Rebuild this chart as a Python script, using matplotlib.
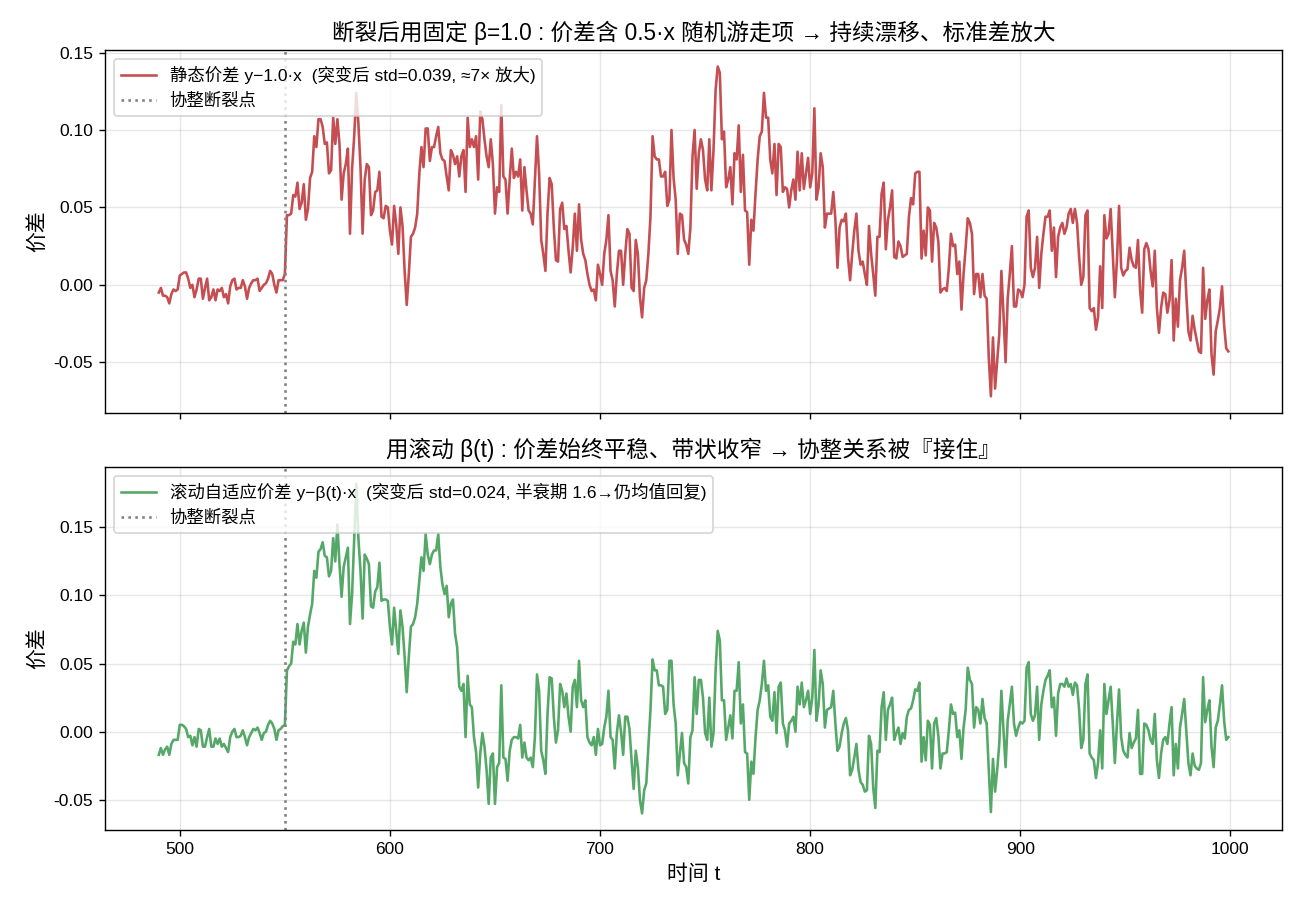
import numpy as np
import matplotlib
matplotlib.use('Agg')
import matplotlib.pyplot as plt

plt.rcParams['font.family'] = ['Liberation Sans', 'Noto Sans CJK SC', 'DejaVu Sans']
plt.rcParams['axes.unicode_minus'] = False

# 时间起点与断裂点
t_start = 490
t_break = 550

# 静态价差 y-1.0*x (每行 10 个点, 从 t=490 开始)
static_spread = [
    -0.005, -0.002, -0.007, -0.007, -0.008, -0.012, -0.006, -0.003, -0.004, -0.003,
    0.006, 0.007, 0.008, 0.008, 0.004, -0.002, 0.000, -0.008, -0.003, 0.004,
    0.004, -0.009, -0.002, 0.004, -0.010, -0.008, -0.003, -0.010, -0.003, -0.004,
    -0.002, -0.008, -0.006, -0.012, -0.001, 0.003, 0.004, -0.003, -0.002, -0.002,
    0.003, -0.001, -0.009, -0.002, 0.001, 0.003, 0.003, 0.004, -0.004, -0.002,
    0.000, 0.001, 0.004, 0.009, 0.007, 0.000, -0.005, 0.003, 0.003, 0.003,
    0.007, 0.045, 0.045, 0.046, 0.058, 0.057, 0.066, 0.049, 0.053, 0.065,
    0.042, 0.049, 0.069, 0.073, 0.096, 0.089, 0.107, 0.107, 0.102, 0.091,
    0.092, 0.072, 0.074, 0.108, 0.091, 0.107, 0.091, 0.055, 0.072, 0.078,
    0.088, 0.033, 0.075, 0.096, 0.124, 0.104, 0.076, 0.033, 0.068, 0.078,
    0.076, 0.045, 0.048, 0.060, 0.061, 0.073, 0.044, 0.043, 0.051, 0.050,
    0.035, 0.026, 0.051, 0.039, 0.020, 0.050, 0.038, 0.009, -0.013, 0.007,
    0.031, 0.033, 0.037, 0.046, 0.072, 0.089, 0.076, 0.101, 0.101, 0.080,
    0.089, 0.089, 0.096, 0.102, 0.085, 0.081, 0.080, 0.070, 0.061, 0.087,
    0.084, 0.078, 0.083, 0.070, 0.083, 0.087, 0.060, 0.108, 0.089, 0.094,
    0.089, 0.096, 0.068, 0.112, 0.107, 0.094, 0.083, 0.076, 0.094, 0.078,
    0.046, 0.063, 0.060, 0.116, 0.070, 0.068, 0.046, 0.068, 0.088, 0.069,
    0.073, 0.070, 0.081, 0.048, 0.076, 0.061, 0.048, 0.046, 0.039, 0.068,
    0.096, 0.072, 0.029, 0.020, 0.009, 0.046, 0.069, 0.065, 0.037, 0.016,
    0.015, 0.049, 0.053, 0.036, 0.038, 0.022, 0.008, 0.024, 0.046, 0.022,
    0.052, 0.029, 0.020, 0.016, 0.007, 0.000, -0.004, -0.003, -0.010, 0.013,
    0.007, 0.000, 0.020, 0.029, 0.045, 0.009, 0.003, -0.014, 0.007, 0.022,
    0.022, 0.000, 0.020, 0.036, 0.033, -0.002, -0.004, 0.029, 0.020, -0.008,
    -0.021, -0.002, 0.003, 0.020, 0.044, 0.096, 0.083, 0.081, 0.081, 0.070,
    0.070, 0.073, 0.051, 0.055, 0.100, 0.069, 0.055, 0.020, 0.046, 0.045,
    0.029, 0.026, 0.020, 0.037, 0.083, 0.100, 0.062, 0.085, 0.094, 0.087,
    0.068, 0.061, 0.094, 0.061, 0.087, 0.126, 0.141, 0.137, 0.094, 0.099,
    0.063, 0.068, 0.076, 0.052, 0.085, 0.081, 0.103, 0.060, 0.084, 0.048,
    0.047, 0.013, 0.042, 0.035, 0.059, 0.081, 0.096, 0.099, 0.124, 0.108,
    0.108, 0.081, 0.072, 0.091, 0.058, 0.091, 0.089, 0.060, 0.063, 0.062,
    0.050, 0.061, 0.068, 0.055, 0.086, 0.061, 0.085, 0.062, 0.072, 0.082,
    0.063, 0.072, 0.114, 0.055, 0.063, 0.085, 0.076, 0.037, 0.046, 0.046,
    0.046, 0.060, 0.042, 0.011, 0.037, 0.042, 0.041, 0.046, 0.018, 0.003,
    0.020, 0.035, 0.046, 0.022, 0.013, 0.015, 0.007, 0.000, 0.038, 0.020,
    0.007, -0.007, 0.031, 0.031, 0.059, 0.066, 0.023, 0.042, 0.050, 0.061,
    0.018, 0.017, 0.028, 0.025, 0.018, 0.019, 0.020, 0.044, 0.056, 0.052,
    0.072, 0.073, 0.073, 0.017, 0.035, 0.019, 0.050, 0.048, 0.015, 0.040,
    0.037, 0.028, -0.005, -0.003, -0.002, -0.004, 0.011, 0.033, 0.025, 0.026,
    0.007, 0.015, -0.016, 0.007, 0.024, 0.043, 0.040, 0.033, -0.006, 0.007,
    0.007, -0.008, 0.007, -0.007, -0.009, -0.047, -0.072, -0.034, -0.067, -0.049,
    -0.032, 0.009, -0.019, -0.050, -0.009, 0.007, 0.025, -0.014, -0.014, -0.003,
    -0.004, -0.008, 0.000, 0.044, 0.048, 0.011, 0.005, 0.011, 0.031, -0.002,
    0.020, 0.033, 0.044, 0.044, 0.048, 0.022, 0.037, 0.005, 0.031, 0.037,
    0.040, 0.033, 0.037, 0.046, 0.049, 0.040, 0.049, 0.040, 0.018, 0.000,
    0.005, 0.045, 0.048, -0.015, -0.017, -0.015, -0.029, -0.021, 0.012, -0.015,
    0.045, 0.030, 0.033, 0.049, 0.020, -0.008, 0.016, 0.051, 0.011, 0.006,
    0.009, 0.010, 0.024, 0.016, 0.012, 0.011, 0.029, -0.003, -0.018, 0.023,
    0.027, 0.023, 0.009, -0.001, 0.022, -0.015, -0.031, -0.015, -0.005, -0.006,
    -0.018, -0.010, 0.016, -0.036, -0.009, -0.027, 0.003, 0.011, 0.022, -0.006,
    -0.030, -0.036, -0.020, -0.029, -0.036, -0.043, -0.044, 0.011, -0.022, -0.010,
    -0.003, -0.045, -0.058, -0.030, -0.023, -0.015, -0.001, -0.026, -0.041, -0.043,
]

# 滚动自适应价差 y-beta(t)*x
rolling_spread = [
    -0.017, -0.012, -0.017, -0.013, -0.011, -0.017, -0.009, -0.006, -0.006, -0.006,
    0.005, 0.005, 0.004, 0.002, -0.004, -0.003, -0.010, -0.004, -0.011, 0.002,
    0.001, -0.011, -0.011, -0.004, 0.002, -0.011, -0.011, -0.005, -0.009, -0.005,
    -0.011, -0.009, -0.012, -0.015, -0.004, 0.000, 0.002, -0.004, -0.004, -0.003,
    0.001, -0.004, -0.010, -0.004, -0.001, 0.002, 0.001, 0.003, -0.001, -0.006,
    -0.001, 0.000, 0.005, 0.008, 0.006, 0.002, -0.006, 0.001, 0.002, 0.004,
    0.005, 0.045, 0.048, 0.050, 0.066, 0.064, 0.079, 0.064, 0.074, 0.080,
    0.058, 0.077, 0.086, 0.094, 0.118, 0.113, 0.132, 0.134, 0.139, 0.129,
    0.128, 0.114, 0.118, 0.142, 0.125, 0.152, 0.123, 0.099, 0.121, 0.128,
    0.135, 0.079, 0.101, 0.142, 0.182, 0.142, 0.118, 0.083, 0.130, 0.127,
    0.123, 0.092, 0.091, 0.103, 0.106, 0.124, 0.096, 0.097, 0.097, 0.096,
    0.077, 0.064, 0.091, 0.074, 0.057, 0.089, 0.077, 0.055, 0.029, 0.055,
    0.077, 0.079, 0.084, 0.094, 0.111, 0.128, 0.118, 0.145, 0.130, 0.123,
    0.130, 0.133, 0.133, 0.145, 0.121, 0.108, 0.101, 0.107, 0.084, 0.094,
    0.097, 0.072, 0.062, 0.033, 0.030, 0.035, -0.004, 0.041, 0.020, 0.018,
    -0.004, -0.015, -0.041, -0.016, -0.001, -0.011, -0.028, -0.053, -0.019, -0.016,
    -0.053, -0.026, -0.023, 0.034, -0.019, -0.020, -0.036, -0.014, -0.006, -0.004,
    -0.004, -0.005, 0.005, -0.019, -0.008, -0.019, -0.021, -0.019, -0.026, -0.004,
    0.042, 0.030, -0.014, -0.021, -0.031, 0.013, 0.040, 0.039, 0.011, -0.008,
    0.001, 0.035, 0.030, 0.018, 0.028, 0.011, 0.000, 0.033, 0.038, 0.018,
    0.052, 0.023, 0.018, 0.023, -0.004, -0.008, -0.010, -0.004, -0.017, 0.002,
    -0.010, -0.009, 0.003, 0.011, 0.030, -0.004, -0.006, -0.027, -0.001, 0.012,
    0.000, -0.017, 0.011, 0.011, 0.002, -0.021, -0.042, -0.014, -0.026, -0.050,
    -0.060, -0.043, -0.038, -0.011, 0.016, 0.053, 0.045, 0.045, 0.034, 0.034,
    0.033, 0.013, 0.016, 0.052, 0.052, 0.020, 0.006, -0.032, -0.016, -0.001,
    -0.023, -0.026, -0.038, -0.004, 0.001, 0.040, 0.013, 0.038, 0.038, 0.025,
    -0.001, -0.006, 0.025, -0.011, -0.001, 0.045, 0.074, 0.067, 0.023, 0.023,
    -0.006, 0.003, 0.012, -0.005, 0.030, 0.030, 0.051, 0.006, 0.020, -0.015,
    -0.016, -0.050, -0.022, -0.031, -0.004, 0.016, 0.023, 0.035, 0.052, 0.030,
    0.034, 0.011, 0.008, 0.029, -0.001, 0.033, 0.036, 0.006, 0.001, -0.011,
    0.006, 0.008, 0.011, 0.000, 0.033, 0.020, 0.036, 0.018, 0.023, 0.030,
    0.013, 0.025, 0.060, 0.008, 0.020, 0.045, 0.035, 0.003, 0.016, 0.017,
    0.018, 0.030, 0.006, -0.014, -0.011, -0.001, 0.006, 0.010, 0.001, -0.032,
    -0.028, -0.019, -0.009, -0.028, -0.037, -0.039, -0.044, -0.043, -0.003, -0.009,
    -0.041, -0.056, -0.014, -0.015, 0.018, 0.029, -0.006, 0.016, 0.020, 0.025,
    -0.006, -0.001, 0.003, -0.009, -0.001, -0.005, 0.011, 0.016, 0.017, 0.023,
    0.031, 0.030, 0.036, -0.022, -0.004, -0.021, 0.008, 0.005, -0.027, 0.006,
    0.010, -0.003, -0.027, -0.016, -0.016, -0.015, 0.001, 0.020, 0.013, 0.014,
    -0.004, 0.001, -0.020, 0.003, 0.016, 0.047, 0.038, 0.035, 0.003, 0.018,
    0.016, 0.006, 0.024, 0.010, 0.006, -0.028, -0.059, -0.020, -0.044, -0.028,
    -0.009, 0.030, 0.001, -0.026, 0.008, 0.020, 0.033, 0.006, -0.003, 0.003,
    0.007, 0.006, 0.008, 0.047, 0.051, 0.013, 0.008, 0.012, 0.033, -0.006,
    0.020, 0.030, 0.038, 0.041, 0.045, 0.018, 0.025, -0.003, 0.028, 0.035,
    0.035, 0.033, 0.039, 0.033, 0.035, 0.027, 0.036, 0.034, 0.016, -0.012,
    -0.006, 0.035, 0.042, -0.016, -0.019, -0.021, -0.034, -0.023, 0.001, -0.027,
    0.035, 0.013, 0.023, 0.033, 0.006, -0.023, 0.006, 0.031, -0.004, -0.014,
    -0.017, -0.019, -0.001, -0.012, -0.008, -0.005, 0.016, -0.031, -0.031, 0.006,
    0.005, 0.001, -0.006, -0.009, 0.013, -0.021, -0.034, -0.016, -0.006, -0.004,
    -0.009, 0.006, 0.018, -0.032, -0.009, -0.027, 0.003, 0.013, 0.024, 0.001,
    -0.023, -0.032, -0.016, -0.025, -0.027, -0.028, -0.023, 0.040, 0.007, 0.016,
    0.023, -0.011, -0.026, 0.003, 0.008, 0.020, 0.034, 0.008, -0.006, -0.004,
]

t = np.arange(t_start, t_start + len(static_spread))

RED = '#C44E52'
GREEN = '#55A868'

# 10.4 x 7.28 英寸 @125dpi -> 1300x910
fig, (ax1, ax2) = plt.subplots(2, 1, figsize=(10.4, 7.28), dpi=125, sharex=True)
fig.subplots_adjust(left=0.081, right=0.986, top=0.945, bottom=0.088, hspace=0.15)

# 上图: 固定 beta
ax1.plot(t, static_spread, color=RED, lw=1.5,
         label='静态价差 y−1.0·x  (突变后 std=0.039, ≈7× 放大)')
ax1.axvline(t_break, color='gray', ls=':', lw=1.5, label='协整断裂点')
ax1.set_title('断裂后用固定 β=1.0 : 价差含 0.5·x 随机游走项 → 持续漂移、标准差放大', fontsize=13)
ax1.set_ylabel('价差', fontsize=12)
ax1.grid(True, alpha=0.3)
ax1.legend(loc='upper left')

# 下图: 滚动 beta(t)
ax2.plot(t, rolling_spread, color=GREEN, lw=1.5,
         label='滚动自适应价差 y−β(t)·x  (突变后 std=0.024, 半衰期 1.6→仍均值回复)')
ax2.axvline(t_break, color='gray', ls=':', lw=1.5, label='协整断裂点')
ax2.set_title('用滚动 β(t) : 价差始终平稳、带状收窄 → 协整关系被『接住』', fontsize=13)
ax2.set_ylabel('价差', fontsize=12)
ax2.set_xlabel('时间 t', fontsize=12)
ax2.grid(True, alpha=0.3)
ax2.legend(loc='upper left')

plt.savefig('out.png', dpi=125)
plt.close()
